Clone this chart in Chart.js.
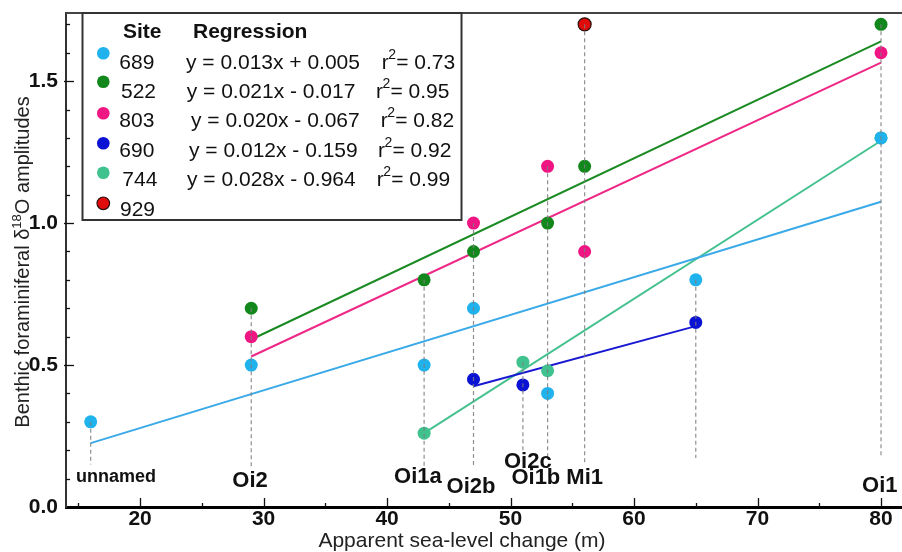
<!DOCTYPE html>
<html>
<head>
<meta charset="utf-8">
<title>Benthic d18O amplitudes vs sea-level change</title>
<script src="https://cdn.jsdelivr.net/npm/chart.js@4.4.1/dist/chart.umd.min.js"></script>
<style>
  html, body { margin: 0; padding: 0; background: #fff; }
  #wrap { width: 902px; height: 552px; }
</style>
</head>
<body>
<div id="wrap"><canvas id="chart" width="902" height="552"></canvas></div>
<script>
// site list and regression text shown in the key
var sites = ['689', '522', '803', '690', '744', '929'];
var siteColors = ['#20b2ec', '#12881c', '#ef1583', '#0a12d4', '#3fc28e', '#e00b0b'];
var lineColors = ['#3aa9e8', '#1a8a22', '#ef2786', '#1818d2', '#45c18f'];
var equations = ['y = 0.013x + 0.005', 'y = 0.021x - 0.017', 'y = 0.020x - 0.067', 'y = 0.012x - 0.159', 'y = 0.028x - 0.964'];
var rSquared = ['0.73', '0.95', '0.82', '0.92', '0.99'];

// measured amplitudes per site (x = sea-level change m, y = amplitude)
var x689 = [16, 29, 43, 47, 53, 65, 80];
var y689 = [0.30, 0.50, 0.50, 0.70, 0.40, 0.80, 1.30];
var x522 = [29, 43, 47, 53, 56, 80];
var y522 = [0.70, 0.80, 0.90, 1.00, 1.20, 1.70];
var x803 = [29, 47, 53, 56, 80];
var y803 = [0.60, 1.00, 1.20, 0.90, 1.60];
var x690 = [47, 51, 65];
var y690 = [0.45, 0.43, 0.65];
var x744 = [43, 51, 53, 80];
var y744 = [0.26, 0.51, 0.48, 1.30];
var x929 = [56];
var y929 = [1.70];

// regression line end points
var fitX = [[16, 80], [29, 80], [29, 80], [47, 65], [43, 80]];
var fitY = [[0.225, 1.075], [0.59, 1.64], [0.53, 1.565], [0.425, 0.637], [0.26, 1.29]];

// isotope events: dashed drop lines and their names
var eventX = [16, 29, 43, 47, 51, 53, 56, 65, 80];
var eventTop = [0.30, 0.70, 0.80, 1.00, 0.51, 1.20, 1.70, 0.80, 1.70];
var eventBottom = [0.15, 0.137, 0.142, 0.142, 0.20, 0.177, 0.155, 0.173, 0.177];
var eventNames = ['unnamed', 'Oi2', 'Oi1a', 'Oi2b', 'Oi2c', 'Oi1b', 'Mi1', '', 'Oi1'];
var eventLabelX = [18.05, 28.9, 42.5, 46.8, 51.4, 52.05, 56.0, null, 79.9];
var eventLabelY = [0.107, 0.093, 0.107, 0.071, 0.16, 0.101, 0.102, null, 0.074];

var xTicksStep = 10;
var yTicksStep = 0.5;

var FONT = "'Liberation Sans', Arial, Helvetica, sans-serif";

function pairs(xs, ys) {
  return xs.map(function(x, i) { return { x: x, y: ys[i] }; });
}

var pointX = [x689, x522, x803, x690, x744, x929];
var pointY = [y689, y522, y803, y690, y744, y929];

var datasets = [];

// regression lines (drawn first, underneath)
fitX.forEach(function(xs, i) {
  datasets.push({
    label: sites[i] + ' fit',
    data: pairs(xs, fitY[i]),
    showLine: true,
    borderColor: lineColors[i],
    borderWidth: 2,
    pointRadius: 0,
    fill: false,
    order: 10
  });
});

// site points
pointX.forEach(function(xs, i) {
  var isRed = sites[i] === '929';
  datasets.push({
    label: sites[i],
    data: pairs(xs, pointY[i]),
    showLine: false,
    pointRadius: 6.5,
    pointBackgroundColor: siteColors[i],
    pointBorderColor: isRed ? '#2a1010' : siteColors[i],
    pointBorderWidth: isRed ? 1.2 : 0,
    order: sites[i] === '744' ? 6 : (isRed ? 4 : 5)
  });
});

// dashed drop lines on top
eventX.forEach(function(x, i) {
  datasets.push({
    label: 'event ' + i,
    data: [{ x: x, y: eventTop[i] }, { x: x, y: eventBottom[i] }],
    showLine: true,
    borderColor: 'rgba(125,125,125,0.85)',
    borderWidth: 1.2,
    borderDash: [4, 3],
    pointRadius: 0,
    order: 1
  });
});

var decorPlugin = {
  id: 'decor',
  afterDraw: function(chart) {
    var ctx = chart.ctx;
    var xs = chart.scales.x, ys = chart.scales.y, a = chart.chartArea;
    ctx.save();

    // top frame line
    ctx.strokeStyle = '#444';
    ctx.lineWidth = 2;
    ctx.beginPath();
    ctx.moveTo(a.left, a.top);
    ctx.lineTo(a.right, a.top);
    ctx.stroke();

    // inward tick marks
    ctx.strokeStyle = '#111';
    ctx.lineWidth = 1.3;
    for (var i = 1; i <= 17; i++) {
      var py = Math.round(ys.getPixelForValue(i / 10)) + 0.5;
      var len = i % 5 === 0 ? 8 : 4;
      ctx.beginPath();
      ctx.moveTo(a.left - (i % 5 === 0 ? 2 : 0), py);
      ctx.lineTo(a.left + len, py);
      ctx.stroke();
    }
    for (var v = 15; v <= 80; v += 5) {
      var px = Math.round(xs.getPixelForValue(v)) + 0.5;
      var l2 = v % 10 === 0 ? 9 : 4;
      ctx.beginPath();
      ctx.moveTo(px, a.bottom);
      ctx.lineTo(px, a.bottom - l2);
      ctx.stroke();
    }

    // event names
    ctx.fillStyle = '#111';
    ctx.textAlign = 'center';
    ctx.textBaseline = 'middle';
    eventNames.forEach(function(name, k) {
      if (!name) return;
      ctx.font = 'bold ' + (name === 'unnamed' ? 18 : 22) + 'px ' + FONT;
      ctx.fillText(name, xs.getPixelForValue(eventLabelX[k]), ys.getPixelForValue(eventLabelY[k]));
    });

    // x axis title
    ctx.font = '21px ' + FONT;
    ctx.fillStyle = '#222';
    ctx.textBaseline = 'middle';
    ctx.fillText('Apparent sea-level change (m)', 462, 541);

    // y axis title with superscript 18
    ctx.save();
    ctx.translate(22, (a.top + a.bottom) / 2 + 2);
    ctx.rotate(-Math.PI / 2);
    var p1 = 'Benthic foraminiferal \u03b4', sup = '18', p2 = 'O amplitudes';
    ctx.font = '20px ' + FONT;
    var w1 = ctx.measureText(p1).width, w3 = ctx.measureText(p2).width;
    ctx.font = '13px ' + FONT;
    var w2 = ctx.measureText(sup).width;
    var start = -(w1 + w2 + w3) / 2;
    ctx.textAlign = 'left';
    ctx.textBaseline = 'alphabetic';
    ctx.font = '20px ' + FONT;
    ctx.fillText(p1, start, 7);
    ctx.font = '13px ' + FONT;
    ctx.fillText(sup, start + w1, -1);
    ctx.font = '20px ' + FONT;
    ctx.fillText(p2, start + w1 + w2, 7);
    ctx.restore();

    // key box
    ctx.fillStyle = '#fff';
    ctx.fillRect(82.5, 13, 379, 207);
    ctx.strokeStyle = '#333';
    ctx.lineWidth = 2;
    ctx.strokeRect(82.5, 13, 379, 207);

    ctx.fillStyle = '#111';
    ctx.textAlign = 'left';
    ctx.textBaseline = 'alphabetic';
    ctx.font = 'bold 21px ' + FONT;
    ctx.fillText('Site', 123, 38.2);
    ctx.fillText('Regression', 193, 38.2);

    var dotY = [53.3, 81.7, 113.3, 143.3, 172.7, 203.3];
    var rowY = [61, 90, 119.3, 149.3, 178.3, 208.3];
    var siteLeft = [119.3, 121, 119.3, 119.3, 122.3, 120];
    var eqLeft = [186, 186.7, 191, 189, 187];
    var rLeft = [381.7, 376, 380.7, 378, 376.7];
    sites.forEach(function(s, k) {
      ctx.beginPath();
      ctx.arc(103.3, dotY[k], 6.3, 0, Math.PI * 2);
      ctx.fillStyle = siteColors[k];
      ctx.fill();
      if (s === '929') {
        ctx.strokeStyle = '#2a1010';
        ctx.lineWidth = 1.2;
        ctx.stroke();
      }
      var base = rowY[k] + 7.5;
      ctx.fillStyle = '#111';
      ctx.font = '21px ' + FONT;
      ctx.fillText(s, siteLeft[k], base);
      if (k < equations.length) {
        ctx.fillText(equations[k], eqLeft[k], base);
        ctx.fillText('r', rLeft[k], base);
        ctx.font = '14px ' + FONT;
        ctx.fillText('2', rLeft[k] + 6.5, base - 10);
        ctx.font = '21px ' + FONT;
        ctx.fillText('= ' + rSquared[k], rLeft[k] + 14.5, base);
      }
    });

    ctx.restore();
  }
};

new Chart(document.getElementById('chart').getContext('2d'), {
  type: 'scatter',
  data: { datasets: datasets },
  options: {
    responsive: false,
    animation: false,
    layout: { autoPadding: false, padding: { top: 13, right: 0, left: 0, bottom: 0 } },
    plugins: {
      legend: { display: false },
      tooltip: { enabled: false }
    },
    scales: {
      x: {
        type: 'linear',
        min: 14,
        max: 81.7,
        afterFit: function(s) {
          s.height = 45;
          s.paddingLeft = 0; s.paddingRight = 0;
        },
        grid: { display: false, drawTicks: false },
        border: { display: true, color: '#000', width: 3 },
        ticks: {
          stepSize: xTicksStep,
          includeBounds: false,
          padding: 0,
          color: '#111',
          font: { family: FONT, size: 21, weight: 'bold' },
          callback: function(v) { return v; }
        }
      },
      y: {
        min: 0,
        max: 1.74,
        afterFit: function(s) {
          s.width = 66;
          s.paddingTop = 0; s.paddingBottom = 0;
        },
        grid: { display: false, drawTicks: false },
        border: { display: true, color: '#333', width: 2 },
        ticks: {
          stepSize: yTicksStep,
          includeBounds: false,
          padding: 8,
          color: '#111',
          font: { family: FONT, size: 21, weight: 'bold' },
          callback: function(v) { return v.toFixed(1); }
        }
      }
    }
  },
  plugins: [decorPlugin]
});
</script>
</body>
</html>
